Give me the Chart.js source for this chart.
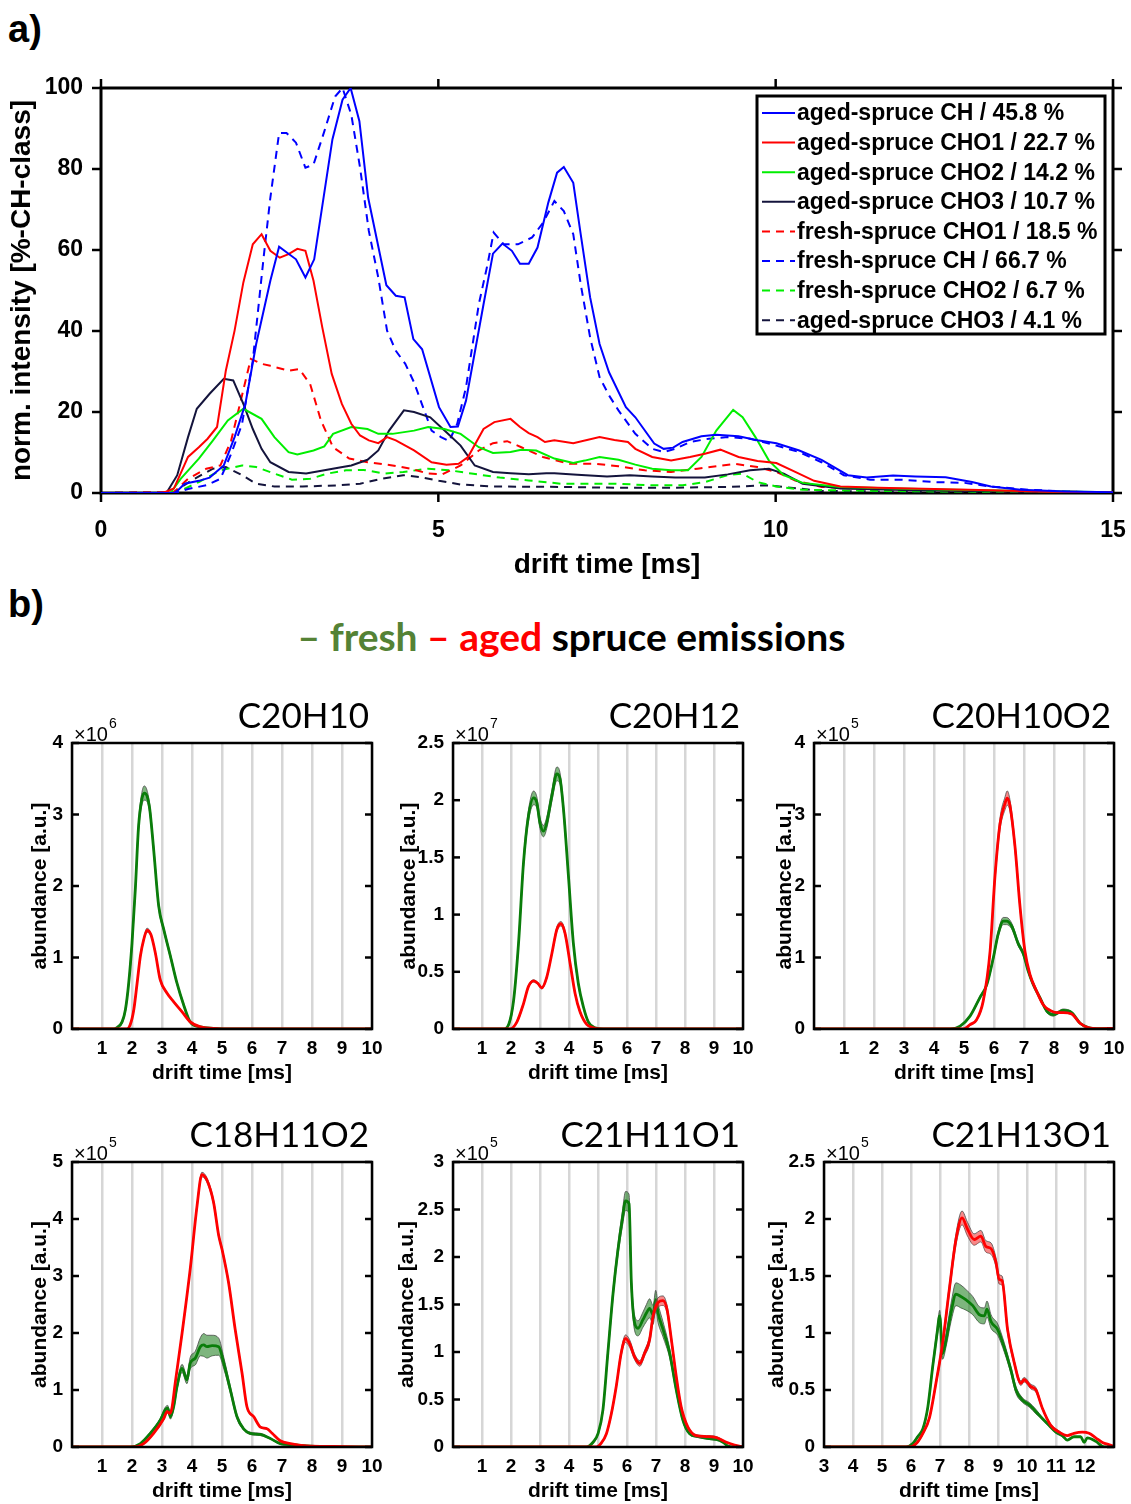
<!DOCTYPE html>
<html>
<head>
<meta charset="utf-8">
<script src="https://cdn.jsdelivr.net/npm/chart.js@4.4.0/dist/chart.umd.min.js"></script>
<style>
  body { margin: 0; background: #fff; width: 1131px; height: 1504px; position: relative; overflow: hidden; font-family: "Liberation Sans", Arial, sans-serif; }
  canvas { position: absolute; }
  .lbl { position: absolute; font-weight: bold; font-size: 38px; color: #000; }
  #figTitle { position: absolute; left: 6px; top: 613px; width: 1131px; text-align: center; font-family: Lato, "Open Sans", sans-serif; font-weight: bold; font-size: 39px; color: #000; }
</style>
</head>
<body>
<div class="lbl" style="left:8px; top:8px;">a)</div>
<div class="lbl" style="left:8px; top:583px;">b)</div>
<div id="figTitle"><span style="color:#548235">– fresh</span> <span style="color:#ff0000">– aged</span> spruce emissions</div>
<canvas id="topChart" width="1131" height="600" style="left:0;top:0;width:1131px;height:600px"></canvas>

<script>
// ---------- a) normalized drift time spectra, [drift time ms, % of CH-class] ----------
const agedCH = [[0,0],[1.08,0],[1.13,0.5],[1.24,2.3],[1.45,3],[1.61,3.8],[1.82,6.8],[1.98,13.8],[2.14,22],[2.30,36.8],[2.51,52.4],[2.64,60.8],[2.89,57.7],[3.03,53.2],[3.16,57.7],[3.43,87.3],[3.58,97.1],[3.70,100],[3.83,91.8],[3.96,72.9],[4.23,51.3],[4.37,48.7],[4.50,48.3],[4.63,38],[4.76,35.5],[5.01,21.2],[5.18,16.3],[5.29,16.4],[5.41,22.8],[5.67,46.6],[5.81,59.1],[5.95,61.6],[6.09,59.8],[6.21,56.6],[6.34,56.6],[6.47,60.6],[6.63,71.7],[6.76,79.1],[6.86,80.5],[7.00,76.6],[7.11,63.9],[7.25,48.3],[7.39,36.8],[7.53,29.8],[7.78,21.2],[7.92,18.7],[8.20,12.2],[8.34,10.9],[8.48,11.2],[8.62,12.6],[8.90,14.0],[9.12,14.4],[9.45,14.0],[9.73,13.0],[10.01,12.3],[10.35,10.5],[10.68,8.2],[11.07,4.4],[11.35,3.8],[11.74,4.3],[12.07,4.1],[12.52,3.9],[12.91,2.7],[13.19,1.6],[13.63,0.8],[14.30,0.4],[15,0.2]];
const agedCHO1 = [[0,0],[0.92,0],[1.08,1.1],[1.29,8.9],[1.45,11.3],[1.58,13.4],[1.72,16.3],[1.85,30.2],[1.98,40.1],[2.11,52],[2.25,61.4],[2.38,63.9],[2.51,59.8],[2.65,58.1],[2.78,59],[2.91,60.3],[3.03,59.8],[3.15,52.4],[3.28,40.9],[3.42,29.4],[3.57,22],[3.71,17.1],[3.84,14.2],[3.97,13],[4.11,12.3],[4.24,13.8],[4.37,13],[4.64,10.5],[4.90,7.6],[5.12,7],[5.30,7.2],[5.44,8.9],[5.67,15.8],[5.83,17.5],[6.07,18.3],[6.21,16.3],[6.34,14.8],[6.47,13.8],[6.58,12.6],[6.72,13],[7.00,12.3],[7.39,13.8],[7.61,13.1],[7.81,12.6],[7.92,10.9],[8.17,8.9],[8.45,8],[8.73,8.9],[8.95,9.7],[9.18,10.7],[9.45,8.9],[9.73,7.9],[10.01,7.4],[10.29,5.2],[10.57,3],[10.96,1.6],[11.52,1.3],[12.35,1],[13.19,0.7],[14.02,0.3],[15,0.2]];
const agedCHO2 = [[0,0],[1.03,0],[1.18,3.5],[1.45,8.5],[1.66,13],[1.88,17.9],[2.11,20.8],[2.38,18.3],[2.57,13.8],[2.78,10.1],[2.91,9.5],[3.15,10.5],[3.31,11.5],[3.44,14.6],[3.71,16.3],[3.95,15.8],[4.11,14.6],[4.32,14.6],[4.64,15.4],[4.85,16.3],[5.09,15.8],[5.33,14.6],[5.60,11.3],[5.81,9.9],[6.07,10.1],[6.23,10.7],[6.45,10.5],[6.72,8.5],[7.00,7.4],[7.17,8],[7.39,8.9],[7.67,8.2],[7.92,7],[8.17,6],[8.45,5.6],[8.70,5.6],[8.90,8.9],[9.12,15.4],[9.37,20.5],[9.51,18.7],[9.70,13.8],[9.90,8],[10.12,4.4],[10.40,2.5],[10.96,1.5],[11.79,1.1],[12.63,0.8],[13.75,0.5],[15,0.2]];
const agedCHO3 = [[0,0],[0.97,0],[1.13,4.4],[1.29,13.8],[1.42,20.8],[1.61,24.5],[1.82,28.2],[1.96,27.8],[2.11,22],[2.25,15.8],[2.38,10.9],[2.51,7.6],[2.78,5.2],[3.04,4.8],[3.31,5.6],[3.58,6.4],[3.71,6.8],[3.95,8.2],[4.11,10.5],[4.27,15.4],[4.49,20.4],[4.64,20],[4.88,18.7],[5.12,15],[5.33,11.7],[5.54,6.8],[5.81,5.2],[6.07,4.9],[6.34,4.6],[6.60,4.9],[6.72,4.9],[7.06,4.5],[7.50,4.1],[7.84,4.4],[8.17,4.1],[8.51,3.8],[8.95,3.8],[9.29,4.6],[9.62,5.6],[9.90,6],[10.12,4.8],[10.40,2.3],[10.96,1.1],[12.07,0.7],[13.75,0.3],[15,0.2]];
const freshCHO1 = [[0,0],[1.08,0.2],[1.29,3.5],[1.56,6],[1.77,6.8],[1.93,13],[2.09,24.1],[2.22,33.1],[2.38,31.9],[2.51,31.4],[2.78,30.2],[2.94,30.6],[3.10,26.9],[3.26,17.9],[3.44,11.3],[3.68,8.5],[3.95,7.6],[4.32,6.8],[4.59,6],[4.85,4.8],[5.06,4.6],[5.33,6.8],[5.60,10.5],[5.81,12.3],[6.02,12.8],[6.23,11.3],[6.55,8.9],[6.95,7.2],[7.34,7.2],[7.67,6.6],[8.06,5.6],[8.45,5.2],[8.84,6],[9.12,6.6],[9.40,7.2],[9.73,6.4],[10.01,5.2],[10.29,3.1],[10.68,1.5],[11.24,1.1],[12.07,0.8],[13.19,0.5],[15,0.2]];
const freshCH = [[0,0],[1.13,0.2],[1.29,1],[1.56,1.9],[1.77,3.5],[1.93,9.7],[2.09,17],[2.25,32.7],[2.41,58.1],[2.51,72.9],[2.64,88.9],[2.75,88.9],[2.89,86.5],[3.03,80.3],[3.15,81.1],[3.31,89.3],[3.47,97.9],[3.58,100],[3.71,93.4],[3.84,80.3],[3.97,64.7],[4.11,53.2],[4.24,40.1],[4.37,35.1],[4.51,31.9],[4.64,27.3],[4.90,15.4],[5.04,13.8],[5.16,12.8],[5.28,17.1],[5.41,26.1],[5.60,46.6],[5.73,56.5],[5.82,64.3],[5.97,61.4],[6.18,61.4],[6.39,63.1],[6.55,66.7],[6.72,72.1],[6.86,69.6],[7.00,63.9],[7.11,51.6],[7.25,38.4],[7.39,28.6],[7.53,24.1],[7.67,20.4],[7.92,14.6],[8.17,10.9],[8.34,10.1],[8.51,10.9],[8.73,12.6],[9.01,13.4],[9.29,13.8],[9.62,13.4],[10.01,11.7],[10.35,10.1],[10.68,7.6],[11.01,4.4],[11.40,3.3],[11.85,3.3],[12.35,2.7],[12.80,2.5],[13.19,1.6],[13.75,0.8],[14.42,0.3],[15,0.2]];
const freshCHO2 = [[0,0],[1.13,0.2],[1.45,2.7],[1.77,5.6],[2.09,6.8],[2.30,6.4],[2.57,4.8],[2.83,3.3],[3.10,3.5],[3.36,4.8],[3.63,5.6],[3.89,5.7],[4.21,4.8],[4.48,5.2],[4.85,6],[5.17,5.6],[5.49,4.8],[5.91,3.8],[6.34,3.1],[6.81,2.3],[7.61,2.3],[8.17,1.9],[8.62,1.9],[8.95,2.7],[9.29,4.4],[9.51,4.8],[9.73,2.7],[10.01,1.6],[10.40,0.8],[11.52,0.5],[13.19,0.3],[15,0.2]];
const freshCHO3 = [[0,0],[1.08,0.2],[1.34,3.1],[1.66,6],[1.85,6.4],[2.09,4.4],[2.30,2.3],[2.57,1.6],[2.99,1.6],[3.52,1.9],[3.84,2.3],[4.16,3.5],[4.48,4.4],[4.74,3.9],[5.01,3],[5.33,2.1],[5.81,1.6],[6.81,1.5],[7.61,1.3],[8.45,1.3],[9.29,1.5],[9.84,1.9],[10.12,1.5],[10.68,0.5],[12.07,0.3],[15,0.2]];

const topLabels = ['aged-spruce CH / 45.8 %', 'aged-spruce CHO1 / 22.7 %', 'aged-spruce CHO2 / 14.2 %', 'aged-spruce CHO3 / 10.7 %',
                   'fresh-spruce CHO1 / 18.5 %', 'fresh-spruce CH / 66.7 %', 'fresh-spruce CHO2 / 6.7 %', 'aged-spruce CHO3 / 4.1 %'];
const topSeries = [agedCH, agedCHO1, agedCHO2, agedCHO3, freshCHO1, freshCH, freshCHO2, freshCHO3];
const topXTicks = [0, 5, 10, 15];
const topYTicks = [0, 20, 40, 60, 80, 100];

// ---------- b) single compounds, [drift time ms, abundance, spread] ----------
const c20h10Fresh = [[0,0,0],[1.4,0,0],[1.5,0.02,0.005],[1.67,0.1,0.02],[1.78,0.27,0.03],[1.89,0.64,0.04],[2.0,1.2,0.05],[2.11,1.95,0.06],[2.22,2.84,0.07],[2.33,3.22,0.09],[2.41,3.3,0.1],[2.5,3.26,0.08],[2.59,3.08,0.06],[2.72,2.52,0.05],[2.89,1.72,0.04],[3.06,1.39,0.03],[3.28,1.02,0.03],[3.5,0.64,0.02],[3.72,0.34,0.02],[3.94,0.1,0.01],[4.28,0.03,0.005],[4.72,0.01,0],[5.39,0,0],[10,0,0]];
const c20h10Aged = [[0,0,0],[1.83,0,0],[1.94,0.06,0.01],[2.06,0.27,0.02],[2.17,0.64,0.02],[2.28,1.02,0.02],[2.39,1.25,0.02],[2.5,1.38,0.03],[2.63,1.32,0.02],[2.78,1.06,0.02],[2.94,0.69,0.02],[3.17,0.5,0.01],[3.39,0.38,0.01],[3.67,0.24,0.01],[3.94,0.1,0.01],[4.28,0.03,0],[4.83,0.005,0],[5.39,0,0],[10,0,0]];
const c20h12Fresh = [[0,0,0],[1.74,0,0],[1.92,0.04,0.01],[2.09,0.25,0.02],[2.26,0.75,0.03],[2.43,1.45,0.04],[2.6,1.86,0.05],[2.78,2.02,0.06],[2.89,1.98,0.05],[3.0,1.8,0.05],[3.12,1.73,0.05],[3.23,1.8,0.05],[3.41,2.04,0.05],[3.58,2.23,0.06],[3.69,2.19,0.05],[3.81,1.92,0.04],[3.98,1.34,0.03],[4.15,0.75,0.02],[4.32,0.4,0.02],[4.5,0.19,0.01],[4.67,0.06,0.01],[4.9,0.01,0],[5.18,0,0],[10,0,0]];
const c20h12Aged = [[0,0,0],[1.97,0,0],[2.2,0.06,0.01],[2.43,0.22,0.01],[2.6,0.37,0.01],[2.78,0.42,0.01],[2.92,0.4,0.01],[3.06,0.36,0.01],[3.23,0.45,0.01],[3.41,0.66,0.01],[3.58,0.87,0.02],[3.72,0.92,0.02],[3.86,0.84,0.02],[4.04,0.57,0.01],[4.21,0.31,0.01],[4.38,0.15,0.01],[4.61,0.04,0],[4.84,0.01,0],[5.07,0,0],[10,0,0]];
const c20h10o2Fresh = [[0,0,0],[4.53,0,0],[4.87,0.04,0.005],[5.2,0.18,0.01],[5.53,0.44,0.02],[5.76,0.62,0.02],[5.98,1.0,0.03],[6.14,1.33,0.04],[6.31,1.51,0.05],[6.42,1.51,0.05],[6.59,1.44,0.04],[6.81,1.19,0.03],[6.98,1.05,0.03],[7.14,0.81,0.02],[7.31,0.62,0.02],[7.53,0.44,0.02],[7.76,0.25,0.02],[7.98,0.2,0.02],[8.14,0.23,0.02],[8.31,0.26,0.02],[8.59,0.23,0.01],[8.87,0.08,0.01],[9.14,0.02,0],[9.42,0.005,0],[10,0.01,0]];
const c20h10o2Aged = [[0,0,0],[4.98,0,0],[5.2,0.06,0.01],[5.42,0.13,0.01],[5.64,0.39,0.02],[5.87,1.09,0.04],[6.03,2.12,0.06],[6.2,2.87,0.08],[6.37,3.16,0.09],[6.44,3.23,0.1],[6.53,3.13,0.08],[6.7,2.55,0.06],[6.87,1.7,0.04],[7.03,1.09,0.03],[7.2,0.76,0.02],[7.42,0.53,0.02],[7.64,0.34,0.01],[7.87,0.26,0.01],[8.09,0.23,0.01],[8.31,0.23,0.01],[8.59,0.21,0.01],[8.87,0.08,0.01],[9.14,0.02,0],[9.53,0.005,0],[10,0.01,0]];
const c18h11o2Fresh = [[0,0,0],[1.94,0,0],[2.28,0.06,0.01],[2.61,0.24,0.02],[2.94,0.47,0.03],[3.11,0.65,0.05],[3.19,0.68,0.05],[3.28,0.53,0.04],[3.39,0.71,0.05],[3.5,1.06,0.06],[3.67,1.38,0.07],[3.83,1.18,0.07],[3.94,1.47,0.1],[4.11,1.56,0.12],[4.28,1.76,0.16],[4.39,1.79,0.2],[4.5,1.76,0.2],[4.67,1.78,0.18],[4.89,1.76,0.15],[5.06,1.47,0.1],[5.28,1.0,0.06],[5.5,0.53,0.04],[5.72,0.32,0.02],[5.94,0.24,0.02],[6.28,0.22,0.02],[6.61,0.15,0.01],[6.94,0.06,0.01],[7.39,0.04,0],[7.83,0.02,0],[8.72,0,0],[10,0,0]];
const c18h11o2Aged = [[0,0,0],[2.06,0,0],[2.39,0.06,0.01],[2.72,0.24,0.01],[3.06,0.5,0.02],[3.17,0.62,0.02],[3.26,0.59,0.02],[3.33,0.68,0.02],[3.44,1.12,0.02],[3.67,2.0,0.03],[3.94,3.12,0.03],[4.17,4.24,0.04],[4.33,4.78,0.04],[4.5,4.68,0.04],[4.72,4.29,0.04],[4.89,3.71,0.03],[5.0,3.47,0.03],[5.22,2.88,0.03],[5.44,2.06,0.02],[5.67,1.29,0.02],[5.83,0.71,0.02],[6.06,0.53,0.01],[6.28,0.35,0.01],[6.5,0.32,0.01],[6.67,0.24,0.01],[6.94,0.11,0.01],[7.28,0.06,0],[7.83,0.02,0],[8.72,0.01,0],[10,0,0]];
const c21h11o1Fresh = [[0,0,0],[4.6,0,0],[4.83,0.05,0.01],[5.0,0.14,0.01],[5.17,0.39,0.02],[5.34,0.99,0.04],[5.52,1.62,0.05],[5.69,2.08,0.06],[5.84,2.4,0.08],[5.95,2.59,0.1],[6.07,2.56,0.1],[6.15,1.73,0.08],[6.26,1.31,0.08],[6.38,1.25,0.08],[6.55,1.34,0.08],[6.67,1.41,0.09],[6.78,1.46,0.1],[6.9,1.39,0.1],[6.99,1.55,0.1],[7.07,1.41,0.1],[7.24,1.24,0.08],[7.47,0.99,0.05],[7.7,0.6,0.03],[7.93,0.28,0.02],[8.16,0.14,0.01],[8.45,0.11,0.01],[8.79,0.09,0.01],[9.08,0.08,0.01],[9.31,0.05,0],[9.48,0.01,0],[9.66,0,0],[10,0,0]];
const c21h11o1Aged = [[0,0,0],[4.94,0,0],[5.11,0.04,0.01],[5.29,0.14,0.01],[5.46,0.35,0.02],[5.63,0.64,0.02],[5.8,0.99,0.03],[5.95,1.14,0.04],[6.09,1.09,0.04],[6.26,0.95,0.03],[6.44,0.88,0.03],[6.61,0.99,0.03],[6.78,1.13,0.04],[6.9,1.38,0.05],[7.07,1.52,0.05],[7.24,1.54,0.05],[7.38,1.45,0.04],[7.53,1.13,0.03],[7.7,0.74,0.02],[7.87,0.42,0.02],[8.1,0.21,0.01],[8.39,0.12,0.01],[8.74,0.11,0.01],[9.08,0.1,0.01],[9.43,0.05,0],[9.71,0.02,0],[10,0,0]];
const c21h13o1Fresh = [[3,0,0],[5.83,0,0],[6.06,0.03,0.01],[6.23,0.09,0.01],[6.41,0.16,0.01],[6.58,0.35,0.02],[6.75,0.71,0.03],[6.9,1.0,0.04],[6.99,1.15,0.05],[7.09,0.82,0.05],[7.21,0.94,0.06],[7.38,1.18,0.08],[7.55,1.34,0.1],[7.72,1.32,0.1],[7.9,1.29,0.09],[8.13,1.24,0.08],[8.36,1.16,0.07],[8.53,1.15,0.07],[8.62,1.21,0.07],[8.76,1.1,0.06],[8.99,1.03,0.05],[9.22,0.87,0.04],[9.44,0.68,0.03],[9.62,0.5,0.03],[9.85,0.41,0.02],[10.08,0.37,0.02],[10.31,0.31,0.02],[10.53,0.25,0.01],[10.76,0.19,0.01],[11.0,0.13,0.01],[11.22,0.1,0.01],[11.39,0.06,0],[11.62,0.09,0],[11.85,0.09,0],[11.97,0.04,0],[12.08,0.08,0],[12.37,0.05,0],[12.66,0,0],[13,0,0]];
const c21h13o1Aged = [[3,0,0],[5.95,0,0],[6.18,0.03,0.01],[6.41,0.12,0.01],[6.64,0.26,0.01],[6.86,0.56,0.02],[7.09,0.91,0.03],[7.32,1.38,0.04],[7.55,1.82,0.05],[7.76,2.01,0.06],[7.95,1.91,0.06],[8.18,1.82,0.05],[8.41,1.85,0.05],[8.58,1.76,0.05],[8.76,1.74,0.05],[8.93,1.62,0.04],[9.04,1.47,0.04],[9.14,1.46,0.04],[9.33,1.03,0.03],[9.56,0.74,0.02],[9.79,0.56,0.02],[9.9,0.59,0.02],[10.13,0.53,0.02],[10.31,0.5,0.02],[10.53,0.34,0.01],[10.82,0.19,0.01],[11.11,0.13,0.01],[11.39,0.1,0],[11.62,0.12,0],[11.91,0.13,0],[12.14,0.12,0],[12.37,0.08,0],[12.6,0.04,0],[12.94,0.01,0],[13,0,0]];

const panelNames = ['C20H10', 'C20H12', 'C20H10O2', 'C18H11O2', 'C21H11O1', 'C21H13O1'];
const panelExponents = ['6', '7', '5', '5', '5', '5'];
const panelYMax = [4, 2.5, 4, 5, 3, 2.5];
const panelYStep = [1, 0.5, 1, 1, 0.5, 0.5];
const panelXRange = [[0, 10], [0, 10], [0, 10], [0, 10], [0, 10], [3, 13]];
const panelFresh = [c20h10Fresh, c20h12Fresh, c20h10o2Fresh, c18h11o2Fresh, c21h11o1Fresh, c21h13o1Fresh];
const panelAged = [c20h10Aged, c20h12Aged, c20h10o2Aged, c18h11o2Aged, c21h11o1Aged, c21h13o1Aged];

// ---------- styles / layout ----------
const FONT = '"Liberation Sans", Arial, sans-serif';
Chart.defaults.font.family = FONT;
Chart.defaults.color = '#000';

const topStyles = [
  {c: '#0000ff', d: []}, {c: '#ff0000', d: []}, {c: '#00ee00', d: []}, {c: '#14143c', d: []},
  {c: '#ff0000', d: [8, 6]}, {c: '#0000ff', d: [8, 6]}, {c: '#00ee00', d: [8, 6]}, {c: '#14143c', d: [8, 6]}
];

// chart area in page px: left, right, top, bottom, y-title offset
const panelBoxes = [
  {L: 72, R: 372, T: 743, B: 1029, yt: 32, hide: 0},
  {L: 453, R: 743, T: 743, B: 1029, yt: 44, hide: 0},
  {L: 814, R: 1114, T: 743, B: 1029, yt: 29, hide: 0},
  {L: 72, R: 372, T: 1162, B: 1447, yt: 32, hide: 0},
  {L: 453, R: 743, T: 1162, B: 1447, yt: 46, hide: 0},
  {L: 824, R: 1114, T: 1162, B: 1447, yt: 47, hide: 13}
];

function seg(ctx, x1, y1, x2, y2) {
  ctx.beginPath(); ctx.moveTo(x1, y1); ctx.lineTo(x2, y2); ctx.stroke();
}

// keep the chart area where it is set, not shrunk for label overhang
function noOverhang(s) {
  s.paddingLeft = 0; s.paddingRight = 0; s.paddingTop = 0; s.paddingBottom = 0;
}

// --- top chart frame, titles, legend ---
const topDecor = {
  id: 'topDecor',
  beforeDatasetsDraw(chart) {
    const {ctx, chartArea: a, scales: {x, y}} = chart;
    ctx.save();
    ctx.strokeStyle = '#000';
    ctx.lineWidth = 3;
    ctx.strokeRect(a.left, a.top, a.right - a.left, a.bottom - a.top);
    ctx.lineWidth = 2.5;
    topXTicks.forEach(v => {
      const px = x.getPixelForValue(v);
      seg(ctx, px, a.bottom, px, a.bottom + 9);
      seg(ctx, px, a.top, px, a.top - 9);
    });
    topYTicks.forEach(v => {
      const py = y.getPixelForValue(v);
      seg(ctx, a.left - 9, py, a.left, py);
      seg(ctx, a.right, py, a.right + 9, py);
    });
    ctx.restore();
  },
  afterDatasetsDraw(chart) {
    const {ctx, chartArea: a} = chart;
    ctx.save();
    // legend box
    const lx = a.right - 356, ly = a.top + 8, lw = 348, lh = 238;
    ctx.fillStyle = '#fff';
    ctx.fillRect(lx, ly, lw, lh);
    ctx.strokeStyle = '#000';
    ctx.lineWidth = 3;
    ctx.strokeRect(lx, ly, lw, lh);
    ctx.font = 'bold 23px ' + FONT;
    ctx.textBaseline = 'middle';
    ctx.textAlign = 'left';
    chart.data.datasets.forEach((ds, i) => {
      const ry = ly + 17 + i * 29.6;
      ctx.strokeStyle = ds.borderColor;
      ctx.lineWidth = 2;
      ctx.setLineDash(ds.borderDash || []);
      seg(ctx, lx + 5, ry, lx + 38, ry);
      ctx.setLineDash([]);
      ctx.fillStyle = '#000';
      ctx.fillText(ds.label, lx + 40, ry + 1);
    });
    // axis titles
    ctx.font = 'bold 28px ' + FONT;
    ctx.textAlign = 'center';
    ctx.fillText('drift time [ms]', (a.left + a.right) / 2, a.bottom + 72);
    ctx.translate(a.left - 79, (a.top + a.bottom) / 2);
    ctx.rotate(-Math.PI / 2);
    ctx.fillText('norm. intensity [%-CH-class]', 0, 0);
    ctx.restore();
  }
};

new Chart(document.getElementById('topChart'), {
  type: 'line',
  data: {
    datasets: topSeries.map((s, i) => ({
      label: topLabels[i],
      data: s.map(p => ({x: p[0], y: p[1]})),
      borderColor: topStyles[i].c,
      borderDash: topStyles[i].d,
      borderWidth: 2,
      pointRadius: 0,
      fill: false,
      tension: 0
    }))
  },
  options: {
    responsive: false,
    animation: false,
    layout: {padding: {top: 88, right: 18, left: 0, bottom: 0}},
    plugins: {legend: {display: false}, tooltip: {enabled: false}},
    scales: {
      x: {
        type: 'linear', min: 0, max: 15,
        afterFit: s => { s.height = 107; noOverhang(s); },
        ticks: {stepSize: 5, padding: 24, maxRotation: 0, font: {size: 23, weight: 'bold'}},
        grid: {display: false, drawTicks: false},
        border: {display: false}
      },
      y: {
        min: 0, max: 100,
        afterFit: s => { s.width = 101; noOverhang(s); },
        ticks: {stepSize: 20, padding: 18, font: {size: 23, weight: 'bold'}},
        grid: {display: false, drawTicks: false},
        border: {display: false}
      }
    }
  },
  plugins: [topDecor]
});

// --- b) panels ---
function addSeries(ds, pts, lineColor, bandColor, order) {
  ds.push({data: pts.map(q => ({x: q[0], y: q[1] - q[2]})), borderColor: '#4a4a4a', borderWidth: 0.8,
           pointRadius: 0, fill: false, order: order + 2});
  ds.push({data: pts.map(q => ({x: q[0], y: q[1] + q[2]})), borderColor: '#4a4a4a', borderWidth: 0.8,
           pointRadius: 0, fill: '-1', backgroundColor: bandColor, order: order + 1});
  ds.push({data: pts.map(q => ({x: q[0], y: q[1]})), borderColor: lineColor, borderWidth: 2.8,
           pointRadius: 0, fill: false, order: order});
}

function makePanel(i) {
  const b = panelBoxes[i];
  const w = (b.R - b.L) + 72 + 16, h = (b.B - b.T) + 60 + 65;
  const cv = document.createElement('canvas');
  cv.width = w; cv.height = h;
  cv.style.left = (b.L - 72) + 'px'; cv.style.top = (b.T - 60) + 'px';
  cv.style.width = w + 'px'; cv.style.height = h + 'px';
  document.body.appendChild(cv);

  const ds = [];
  addSeries(ds, panelAged[i], '#ff0000', 'rgba(240,40,40,0.55)', 0);
  addSeries(ds, panelFresh[i], '#0a7d0a', 'rgba(20,120,20,0.55)', 10);

  const decor = {
    id: 'panelDecor' + i,
    afterDatasetsDraw(chart) {
      const {ctx, chartArea: a, scales: {y}} = chart;
      ctx.save();
      ctx.strokeStyle = '#000';
      ctx.lineWidth = 2.5;
      ctx.strokeRect(a.left, a.top, a.right - a.left, a.bottom - a.top);
      for (let v = 0; v <= panelYMax[i] + 1e-9; v += panelYStep[i]) {
        const py = y.getPixelForValue(v);
        seg(ctx, a.left, py, a.left + 7, py);
        seg(ctx, a.right - 7, py, a.right, py);
      }
      ctx.restore();
    },
    afterDraw(chart) {
      const {ctx, chartArea: a} = chart;
      ctx.save();
      ctx.fillStyle = '#000';
      ctx.textBaseline = 'middle';
      // compound name
      ctx.font = '35px Lato, "Open Sans", sans-serif';
      ctx.textAlign = 'right';
      ctx.fillText(panelNames[i], a.right - 3, a.top - 26);
      // exponent
      ctx.textAlign = 'left';
      ctx.font = '20px ' + FONT;
      ctx.fillText('\u00d710', a.left + 2, a.top - 8);
      const ew = ctx.measureText('\u00d710').width;
      ctx.font = '14px ' + FONT;
      ctx.fillText(panelExponents[i], a.left + 3 + ew, a.top - 19);
      // axis titles
      ctx.textAlign = 'center';
      ctx.font = 'bold 21px ' + FONT;
      ctx.fillText('drift time [ms]', (a.left + a.right) / 2, a.bottom + 44);
      ctx.translate(a.left - b.yt, (a.top + a.bottom) / 2);
      ctx.rotate(-Math.PI / 2);
      ctx.fillText('abundance [a.u.]', 0, 0);
      ctx.restore();
    }
  };

  new Chart(cv, {
    type: 'line',
    data: {datasets: ds},
    options: {
      responsive: false,
      animation: false,
      layout: {padding: {top: 60, right: 16, left: 0, bottom: 0}},
      plugins: {legend: {display: false}, tooltip: {enabled: false}},
      elements: {line: {cubicInterpolationMode: 'monotone'}},
      scales: {
        x: {
          type: 'linear', min: panelXRange[i][0], max: panelXRange[i][1],
          afterFit: s => { s.height = 65; noOverhang(s); },
          ticks: {stepSize: 1, autoSkip: false, maxRotation: 0, padding: 8,
                  font: {size: 19, weight: 'bold'},
                  callback: v => (v === b.hide ? '' : String(v))},
          grid: {color: '#d6d6d6', lineWidth: 2.5, drawTicks: false},
          border: {display: false}
        },
        y: {
          min: 0, max: panelYMax[i],
          afterFit: s => { s.width = 72; noOverhang(s); },
          ticks: {stepSize: panelYStep[i], padding: 9, font: {size: 19, weight: 'bold'},
                  callback: v => String(v)},
          grid: {display: false, drawTicks: false},
          border: {display: false}
        }
      }
    },
    plugins: [decor]
  });
}

for (let i = 0; i < 6; i++) makePanel(i);
</script>
</body>
</html>
